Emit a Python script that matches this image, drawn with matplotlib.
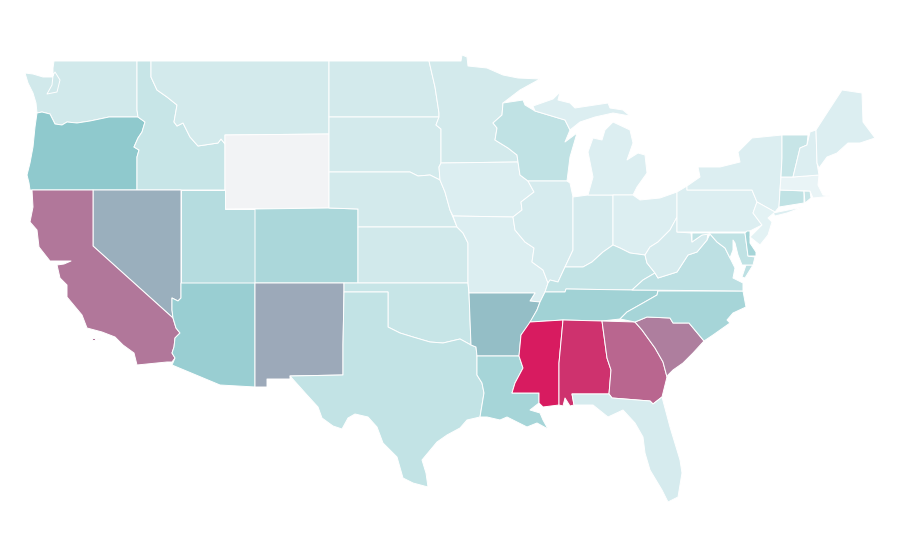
import matplotlib
matplotlib.use("Agg")
import matplotlib.pyplot as plt
from matplotlib.collections import PolyCollection
from matplotlib.colors import LinearSegmentedColormap, Normalize

states = ["WA", "OR", "ID", "MT", "WY", "NV", "CA", "UT", "CO", "AZ", "NM",
          "ND", "SD", "NE", "KS", "OK", "TX", "MN", "IA", "MO", "AR", "LA",
          "WI", "IL", "IN", "MI", "OH", "KY", "TN", "MS", "AL", "GA", "FL",
          "SC", "NC", "VA", "WV", "PA", "NY", "MD", "DE", "NJ", "CT", "RI",
          "MA", "VT", "NH", "ME"]
values = [14, 40, 18, 13, 0, 49, 68, 25, 29, 36, 51,
          13, 13, 13, 14, 18, 20, 13, 9, 9, 44, 31,
          21, 12, 12, 9, 9, 20, 33, 100, 92, 74, 12,
          66, 31, 22, 12, 9, 9, 21, 31, 7, 21, 18,
          5, 18, 9, 9]

shapes = {
    "WA": [[(54, 61), (137, 61), (137, 110), (138, 117), (109, 117), (90, 121), (77, 123), (67, 122), (62, 125),
            (55, 124), (52, 118), (50, 114), (42, 112), (37, 113), (36, 103), (33, 93), (28, 83), (25, 73), (33, 74),
            (43, 77), (52, 77), (55, 72), (60, 80), (57, 92), (47, 94), (52, 85), (53, 76), (53, 68)]],
    "OR": [[(37, 113), (42, 112), (50, 114), (52, 118), (55, 124), (62, 125), (67, 122), (77, 123), (90, 121),
            (109, 117), (138, 117), (145, 122), (142, 132), (138, 138), (134, 147), (139, 150), (137, 157), (137, 190),
            (30, 190), (29, 183), (27, 175), (30, 163), (33, 147), (35, 127)]],
    "ID": [[(137, 61), (151, 61), (151, 77), (157, 90), (167, 97), (177, 105), (174, 122), (177, 126), (183, 123),
            (190, 137), (198, 146), (218, 143), (221, 139), (225, 144), (225, 190), (137, 190), (137, 157), (139, 150),
            (134, 147), (138, 138), (142, 132), (145, 122), (138, 117), (137, 110)]],
    "MT": [[(151, 61), (329, 61), (329, 134), (225, 135), (225, 144), (221, 139), (218, 143), (198, 146), (190, 137),
            (183, 123), (177, 126), (174, 122), (177, 105), (167, 97), (157, 90), (151, 77)]],
    "WY": [[(225, 135), (329, 134), (329, 208), (225, 209)]],
    "NV": [[(93, 190), (181, 190), (181, 298), (178, 301), (172, 298), (172, 310), (173, 318), (93, 246)]],
    "CA": [[(32, 190), (93, 190), (93, 246), (173, 318), (176, 328), (180, 333), (175, 338), (174, 347), (172, 353),
            (175, 358), (172, 362), (167, 362), (157, 363), (137, 365), (134, 353), (123, 345), (115, 337), (102, 332),
            (87, 328), (82, 315), (67, 297), (67, 285), (60, 278), (57, 265), (64, 264), (71, 261), (64, 261), (56, 261),
            (50, 261), (39, 247), (37, 230), (30, 222), (33, 207)],
           [(92, 338), (95, 338), (95, 340), (92, 340)], [(97, 338), (100, 338), (100, 339), (97, 339)]],
    "UT": [[(181, 190), (225, 190), (225, 209), (255, 209), (255, 283), (181, 283)]],
    "CO": [[(255, 209), (329, 208), (358, 209), (358, 283), (255, 283)]],
    "AZ": [[(181, 283), (255, 283), (255, 387), (220, 385), (172, 365), (175, 358), (172, 353), (174, 347), (175, 338),
            (180, 333), (176, 328), (173, 318), (172, 310), (172, 298), (178, 301), (181, 298)]],
    "NM": [[(255, 283), (344, 283), (344, 292), (343, 345), (343, 375), (290, 376), (290, 379), (267, 379), (267, 387),
            (255, 387)]],
    "ND": [[(329, 61), (429, 61), (435, 87), (439, 113), (439, 117), (329, 117)]],
    "SD": [[(329, 117), (439, 117), (436, 125), (441, 129), (441, 163), (439, 167), (440, 180), (430, 175), (418, 176),
            (410, 172), (329, 172)]],
    "NE": [[(329, 172), (410, 172), (418, 176), (430, 175), (440, 180), (445, 192), (450, 210), (457, 227), (358, 227),
            (358, 209), (329, 208)]],
    "KS": [[(358, 227), (457, 227), (463, 233), (468, 243), (468, 283), (358, 283)]],
    "OK": [[(344, 283), (468, 283), (469, 293), (471, 345), (460, 339), (443, 343), (430, 342), (413, 337), (400, 333),
            (388, 327), (388, 292), (344, 292)]],
    "TX": [[(344, 292), (388, 292), (388, 327), (400, 333), (413, 337), (430, 342), (443, 343), (460, 339), (471, 345),
            (476, 347), (477, 356), (477, 375), (482, 383), (484, 393), (480, 417), (467, 420), (460, 428), (447, 435),
            (437, 442), (422, 460), (426, 473), (428, 487), (413, 483), (403, 478), (397, 457), (383, 443), (377, 427),
            (368, 417), (355, 414), (348, 418), (342, 429), (333, 426), (322, 418), (318, 407), (307, 395), (290, 376),
            (343, 375), (343, 345)]],
    "MN": [[(429, 61), (461, 61), (462, 55), (467, 57), (468, 66), (487, 68), (503, 75), (518, 78), (540, 79), (520, 90),
            (503, 103), (502, 115), (493, 123), (497, 128), (495, 140), (508, 148), (517, 155), (518, 162), (441, 163),
            (441, 129), (436, 125), (439, 117), (439, 113), (435, 87)]],
    "IA": [[(441, 163), (518, 162), (520, 175), (528, 181), (534, 192), (521, 202), (522, 210), (513, 217), (453, 216),
            (450, 210), (445, 192), (440, 180), (439, 167)]],
    "MO": [[(453, 216), (513, 217), (515, 230), (525, 242), (534, 248), (532, 262), (543, 270), (548, 283), (545, 292),
            (540, 302), (530, 301), (535, 293), (469, 293), (468, 283), (468, 243), (463, 233), (457, 227)]],
    "AR": [[(469, 293), (535, 293), (530, 301), (540, 302), (537, 310), (530, 323), (521, 335), (519, 356), (477, 356),
            (476, 347), (471, 345)]],
    "LA": [[(477, 356), (519, 356), (523, 368), (515, 383), (512, 393), (539, 393), (539, 403), (530, 410), (540, 413),
            (543, 420), (548, 429), (537, 423), (527, 427), (507, 417), (500, 420), (487, 417), (480, 417), (484, 393),
            (482, 383), (477, 375)]],
    "WI": [[(503, 103), (523, 100), (525, 105), (535, 111), (565, 120), (570, 130), (565, 142), (577, 133), (570, 157),
            (567, 181), (528, 181), (520, 175), (518, 162), (517, 155), (508, 148), (495, 140), (497, 128), (493, 123),
            (502, 115)]],
    "IL": [[(528, 181), (567, 181), (570, 183), (573, 197), (573, 250), (565, 267), (558, 282), (550, 280), (548, 283),
            (543, 270), (532, 262), (534, 248), (525, 242), (515, 230), (513, 217), (522, 210), (521, 202), (534, 192)]],
    "IN": [[(573, 197), (588, 195), (613, 195), (613, 245), (603, 252), (592, 262), (583, 267), (565, 267), (573, 250)]],
    "MI": [[(588, 195), (613, 195), (633, 195), (637, 187), (647, 173), (645, 155), (638, 153), (627, 160), (633, 143),
            (630, 130), (613, 122), (605, 130), (602, 140), (593, 138), (588, 152), (593, 177)],
           [(535, 111), (533, 106), (553, 99), (560, 92), (558, 100), (570, 103), (575, 108), (608, 103), (610, 108),
            (623, 110), (630, 116), (613, 113), (595, 117), (580, 122), (570, 130), (565, 120)]],
    "OH": [[(613, 195), (633, 195), (640, 200), (660, 198), (677, 192), (677, 217), (670, 230), (658, 242), (650, 247),
            (645, 255), (630, 253), (620, 248), (613, 245)]],
    "KY": [[(548, 283), (550, 280), (558, 282), (565, 267), (583, 267), (592, 262), (603, 252), (613, 245), (620, 248),
            (630, 253), (645, 255), (647, 263), (655, 273), (643, 280), (632, 290), (566, 289), (565, 292), (545, 292)]],
    "TN": [[(545, 292), (565, 292), (566, 289), (632, 290), (658, 290), (657, 295), (643, 303), (627, 312), (620, 319),
            (602, 321), (563, 320), (530, 322), (537, 310), (540, 302)]],
    "MS": [[(530, 322), (563, 320), (559, 363), (559, 405), (543, 407), (539, 403), (539, 393), (512, 393), (515, 383),
            (523, 368), (519, 356), (521, 335)]],
    "AL": [[(563, 320), (602, 321), (607, 358), (611, 370), (609, 394), (572, 394), (574, 405), (570, 406), (565, 398),
            (563, 406), (559, 405), (559, 363)]],
    "GA": [[(602, 321), (635, 322), (642, 330), (655, 348), (663, 362), (667, 377), (662, 397), (653, 404), (650, 401),
            (612, 398), (609, 394), (611, 370), (607, 358)]],
    "FL": [[(572, 394), (609, 394), (612, 398), (650, 401), (653, 404), (662, 397), (670, 427), (680, 460), (682, 473),
            (678, 497), (668, 502), (662, 490), (650, 470), (645, 453), (643, 437), (635, 423), (623, 410), (608, 417),
            (593, 405), (574, 405)]],
    "SC": [[(635, 322), (647, 317), (670, 318), (673, 323), (689, 323), (704, 341), (693, 353), (683, 363), (673, 370),
            (668, 375), (667, 377), (663, 362), (655, 348), (642, 330)]],
    "NC": [[(658, 291), (743, 291), (746, 307), (733, 313), (727, 320), (730, 323), (713, 335), (704, 341), (689, 323),
            (673, 323), (670, 318), (647, 317), (635, 322), (620, 319), (627, 312), (643, 303), (657, 295)]],
    "VA": [[(658, 278), (677, 272), (688, 255), (697, 252), (707, 240), (710, 234), (717, 242), (725, 248), (730, 258),
            (735, 268), (733, 278), (743, 283), (743, 291), (632, 290), (643, 280), (655, 273)],
           [(753, 265), (745, 278), (742, 277), (746, 265)]],
    "WV": [[(677, 217), (677, 232), (691, 233), (692, 242), (702, 235), (708, 233), (707, 240), (697, 252), (688, 255),
            (677, 272), (658, 278), (655, 273), (647, 263), (645, 255), (650, 247), (658, 242), (670, 230)]],
    "PA": [[(677, 192), (687, 186), (687, 190), (752, 190), (757, 202), (753, 213), (762, 225), (748, 232), (677, 232)]],
    "NY": [[(687, 190), (687, 186), (700, 177), (698, 167), (720, 167), (740, 162), (738, 152), (752, 138), (782, 135),
            (782, 158), (780, 190), (779, 207), (775, 212), (757, 202), (752, 190)],
           [(773, 213), (803, 207), (787, 213), (775, 216)]],
    "MD": [[(692, 233), (745, 233), (748, 256), (755, 257), (753, 265), (742, 265), (738, 255), (735, 243), (733, 240),
            (733, 250), (730, 258), (725, 248), (717, 242), (710, 234), (702, 235), (692, 242)]],
    "DE": [[(747, 231), (750, 231), (750, 243), (756, 252), (756, 256), (748, 256), (745, 233)]],
    "NJ": [[(757, 202), (775, 212), (768, 218), (772, 222), (768, 235), (760, 245), (750, 237), (762, 225), (753, 213)]],
    "CT": [[(780, 190), (804, 191), (804, 203), (779, 207)]],
    "RI": [[(804, 191), (810, 191), (811, 198), (805, 203)]],
    "MA": [[(781, 177), (793, 177), (819, 175), (818, 185), (823, 195), (830, 196), (823, 197), (813, 198), (810, 191),
            (780, 190)]],
    "VT": [[(782, 135), (808, 135), (807, 145), (800, 148), (793, 177), (781, 177), (782, 158)]],
    "NH": [[(810, 132), (816, 130), (817, 163), (819, 175), (793, 177), (800, 148), (807, 145)]],
    "ME": [[(816, 130), (827, 113), (842, 90), (862, 93), (863, 122), (875, 138), (860, 143), (848, 143), (837, 153),
            (827, 157), (819, 168), (817, 163)]],
}

cmap = LinearSegmentedColormap.from_list(
    "shade", [(0.0, "#f2f3f5"), (0.05, "#e8f4f6"), (0.09, "#dceef1"), (0.13, "#d3eaec"),
              (0.2, "#c2e3e5"), (0.4, "#8fc9cd"), (1.0, "#d81b60")])

polys = []
poly_values = []
for state, value in zip(states, values):
    for part in shapes[state]:
        polys.append(part)
        poly_values.append(value)

fig = plt.figure(figsize=(9, 5.6), dpi=100)
ax = fig.add_axes([0, 0, 1, 1])
coll = PolyCollection(polys, array=poly_values, cmap=cmap, norm=Normalize(0, 100),
                      edgecolors="white", linewidths=0.7)
ax.add_collection(coll)
ax.set_xlim(0, 900)
ax.set_ylim(560, 0)
ax.axis("off")

fig.savefig("out.png", dpi=100, facecolor="white")
